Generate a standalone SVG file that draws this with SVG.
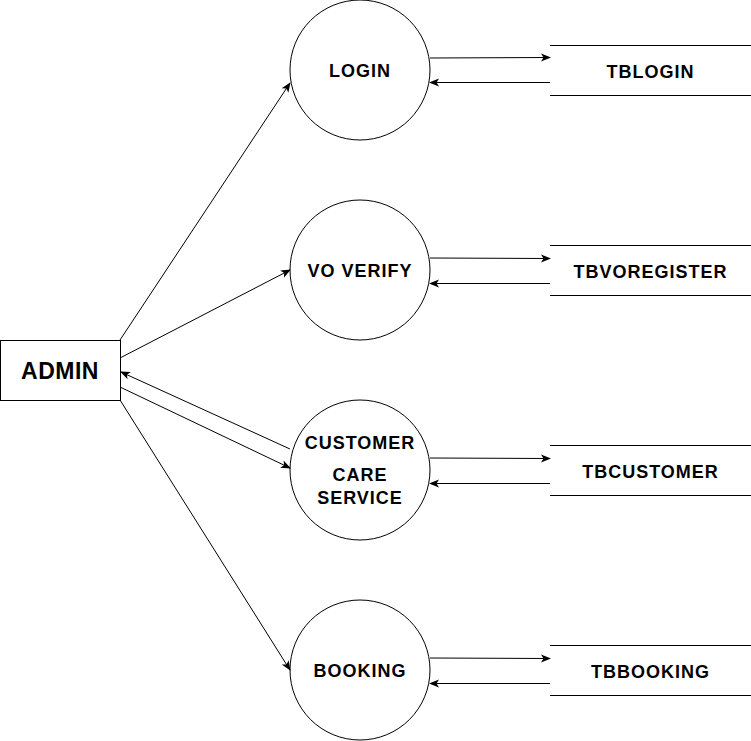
<svg xmlns="http://www.w3.org/2000/svg" width="751" height="741" viewBox="0 0 751 741">
<defs>
<style>
.node{fill:#fff;stroke:#000;stroke-width:1}
.ds{stroke:#000;stroke-width:1;fill:none}
.lbl{font-family:"Liberation Sans",Arial,sans-serif;font-weight:bold;font-size:18px;letter-spacing:1px;text-anchor:middle;dominant-baseline:central;fill:#000}
.edge{stroke:#000;stroke-width:1;fill:none;marker-end:url(#arr)}
</style>
<marker id="arr" viewBox="0 0 10 10" refX="9" refY="5" markerWidth="10" markerHeight="10" markerUnits="userSpaceOnUse" orient="auto">
<path d="M0,1 L10,5 L0,9 L2.5,5 Z" fill="#000"/>
</marker>
</defs>
<rect width="751" height="741" fill="#fff"/>
<g id="admin">
<rect class="node" x="0.5" y="340.5" width="120" height="60"/>
<text class="lbl" x="60" y="371" style="font-size:23px;letter-spacing:0.5px">ADMIN</text>
</g>
<g id="login">
<circle class="node" cx="360" cy="70" r="70"/>
<text class="lbl" x="360" y="71">LOGIN</text>
</g>
<g id="voverify">
<circle class="node" cx="360" cy="270" r="70"/>
<text class="lbl" x="360" y="271">VO VERIFY</text>
</g>
<g id="customercare">
<circle class="node" cx="360" cy="470" r="70"/>
<text class="lbl" x="360" y="443">CUSTOMER</text>
<text class="lbl" x="360" y="475">CARE</text>
<text class="lbl" x="360" y="498">SERVICE</text>
</g>
<g id="booking">
<circle class="node" cx="360" cy="670" r="70"/>
<text class="lbl" x="360" y="671">BOOKING</text>
</g>
<g id="tblogin">
<line class="ds" x1="550" y1="45.5" x2="751" y2="45.5"/>
<line class="ds" x1="550" y1="95.5" x2="751" y2="95.5"/>
<text class="lbl" x="650.5" y="71.5">TBLOGIN</text>
</g>
<g id="tbvoregister">
<line class="ds" x1="550" y1="245.5" x2="751" y2="245.5"/>
<line class="ds" x1="550" y1="295.5" x2="751" y2="295.5"/>
<text class="lbl" x="650.5" y="271.5">TBVOREGISTER</text>
</g>
<g id="tbcustomer">
<line class="ds" x1="550" y1="445.5" x2="751" y2="445.5"/>
<line class="ds" x1="550" y1="495.5" x2="751" y2="495.5"/>
<text class="lbl" x="650.5" y="471.5">TBCUSTOMER</text>
</g>
<g id="tbbooking">
<line class="ds" x1="550" y1="645.5" x2="751" y2="645.5"/>
<line class="ds" x1="550" y1="695.5" x2="751" y2="695.5"/>
<text class="lbl" x="650.5" y="671.5">TBBOOKING</text>
</g>
<g id="connectors">
<line class="edge" x1="120" y1="340" x2="290" y2="83"/>
<line class="edge" x1="120" y1="358" x2="290" y2="270"/>
<line class="edge" x1="290" y1="449" x2="121" y2="372"/>
<line class="edge" x1="120" y1="387" x2="290" y2="468"/>
<line class="edge" x1="120" y1="400" x2="290" y2="670"/>
<line class="edge" x1="430" y1="58" x2="550" y2="57.5"/>
<line class="edge" x1="550" y1="82.5" x2="430" y2="82.5"/>
<line class="edge" x1="430" y1="258" x2="550" y2="258.5"/>
<line class="edge" x1="550" y1="283.5" x2="430" y2="283.5"/>
<line class="edge" x1="430" y1="458" x2="550" y2="458.5"/>
<line class="edge" x1="550" y1="483.5" x2="430" y2="483.5"/>
<line class="edge" x1="430" y1="658" x2="550" y2="658.5"/>
<line class="edge" x1="550" y1="683.5" x2="430" y2="683.5"/>
</g>
</svg>
